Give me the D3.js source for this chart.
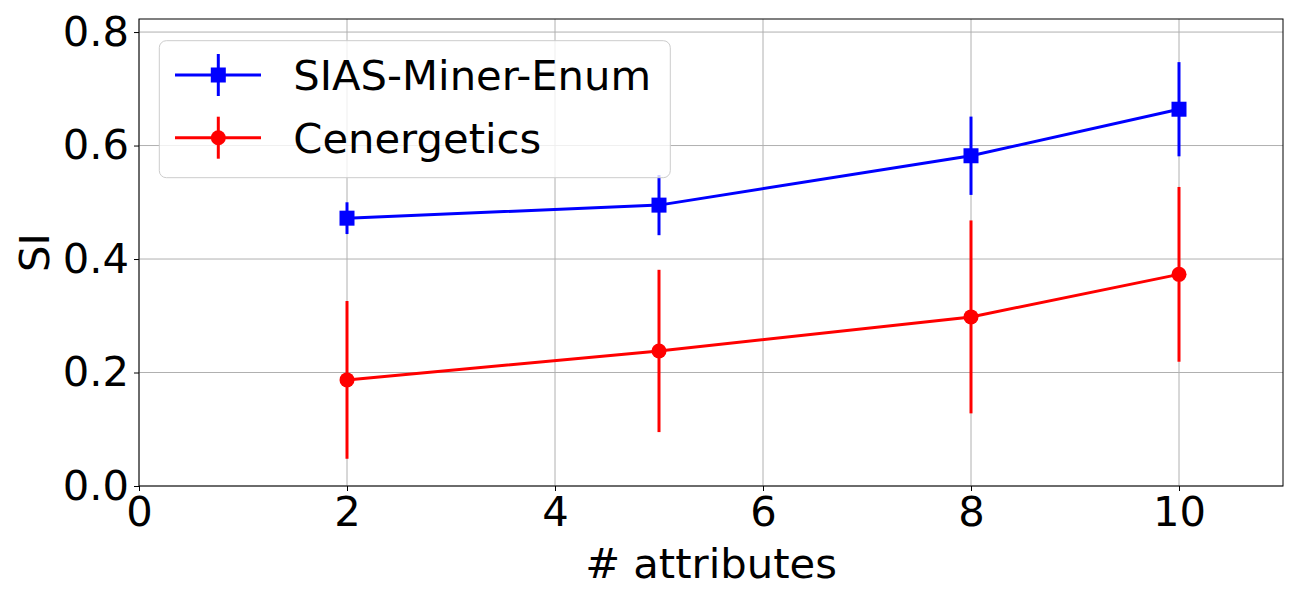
<!DOCTYPE html>
<html>
<head>
<meta charset="utf-8">
<script src="https://cdn.jsdelivr.net/npm/d3@7"></script>
<style>
  body { margin: 0; background: #fff; }
  text { font-family: "DejaVu Sans", sans-serif; fill: #000; }
</style>
</head>
<body>
<div id="chart"></div>
<script>
// Data.
let attributes = [2, 5, 8, 10];
let siasMean = [0.472, 0.495, 0.582, 0.664];
let siasErr = [0.028, 0.053, 0.069, 0.083];
let cenMean = [0.187, 0.238, 0.298, 0.373];
let cenErr = [0.139, 0.143, 0.170, 0.154];
let xTicks = [0, 2, 4, 6, 8, 10];
let yTicks = [0.0, 0.2, 0.4, 0.6, 0.8];
let seriesNames = ["SIAS-Miner-Enum", "Cenergetics"];

// Dimensions.
let margin = {top: 19, right: 17, bottom: 114, left: 139},
    width = 1300 - margin.left - margin.right,
    height = 600 - margin.top - margin.bottom;
let fontSize = 41.7;

let svg = d3.select("#chart")
            .append("svg")
            .attr("width", 1300)
            .attr("height", 600)
            .append("g")
            .attr("transform", "translate(" + margin.left + "," + margin.top + ")");

let x = d3.scaleLinear().domain([0, 11]).range([0, width]);
let y = d3.scaleLinear().domain([0, 0.823]).range([height, 0]);

// Grid.
svg.append("g")
   .selectAll("line")
   .data(xTicks)
   .enter()
   .append("line")
   .attr("x1", d => x(d)).attr("x2", d => x(d))
   .attr("y1", 0).attr("y2", height)
   .attr("stroke", "#b0b0b0").attr("stroke-width", 1);

svg.append("g")
   .selectAll("line")
   .data(yTicks)
   .enter()
   .append("line")
   .attr("x1", 0).attr("x2", width)
   .attr("y1", d => y(d)).attr("y2", d => y(d))
   .attr("stroke", "#b0b0b0").attr("stroke-width", 1);

// Axes.
let xAxis = svg.append("g")
   .attr("transform", "translate(0," + height + ")")
   .call(d3.axisBottom(x).tickValues(xTicks).tickFormat(d3.format("d")).tickSize(5).tickPadding(5));
let yAxis = svg.append("g")
   .call(d3.axisLeft(y).tickValues(yTicks).tickFormat(d3.format(".1f")).tickSize(5).tickPadding(5));
[xAxis, yAxis].forEach(function(a) {
    a.select(".domain").remove();
    a.selectAll("line").attr("stroke", "#000").attr("stroke-width", 1);
    a.selectAll("text").style("font-size", fontSize + "px").style("font-family", "DejaVu Sans");
});

// Frame.
svg.append("rect")
   .attr("x", 0).attr("y", 0)
   .attr("width", width).attr("height", height)
   .attr("fill", "none").attr("stroke", "#000").attr("stroke-width", 1);

// Axis labels.
svg.append("text")
   .attr("text-anchor", "middle")
   .attr("x", width / 2)
   .attr("y", height + 92)
   .style("font-size", fontSize + "px")
   .text("# attributes");

svg.append("text")
   .attr("text-anchor", "middle")
   .attr("transform", "translate(" + (-90) + "," + (height / 2) + ") rotate(-90)")
   .style("font-size", fontSize + "px")
   .text("SI");

// Series.
let series = [
    {name: seriesNames[0], mean: siasMean, err: siasErr, color: "#0000ff", shape: "square"},
    {name: seriesNames[1], mean: cenMean, err: cenErr, color: "#ff0000", shape: "circle"}
];

function drawMarker(g, shape, cx, cy, color) {
    if (shape === "square") {
        g.append("rect")
         .attr("x", cx - 7.5).attr("y", cy - 7.5)
         .attr("width", 15).attr("height", 15)
         .attr("fill", color);
    } else {
        g.append("circle")
         .attr("cx", cx).attr("cy", cy).attr("r", 7.5)
         .attr("fill", color);
    }
}

series.forEach(function(s) {
    let pts = attributes.map((a, i) => ({x: a, v: s.mean[i], e: s.err[i]}));
    let g = svg.append("g");

    g.append("path")
     .datum(pts)
     .attr("fill", "none")
     .attr("stroke", s.color)
     .attr("stroke-width", 3)
     .attr("d", d3.line().x(d => x(d.x)).y(d => y(d.v)));

    g.selectAll(".err")
     .data(pts)
     .enter()
     .append("line")
     .attr("x1", d => x(d.x)).attr("x2", d => x(d.x))
     .attr("y1", d => y(d.v - d.e)).attr("y2", d => y(d.v + d.e))
     .attr("stroke", s.color)
     .attr("stroke-width", 3);

    pts.forEach(d => drawMarker(g, s.shape, x(d.x), y(d.v), s.color));
});

// Legend.
let legend = svg.append("g").attr("transform", "translate(20.3,21.7)");
legend.append("rect")
   .attr("x", 0).attr("y", 0)
   .attr("width", 511).attr("height", 137)
   .attr("rx", 7)
   .attr("fill", "#fff").attr("fill-opacity", 0.8)
   .attr("stroke", "#cccccc").attr("stroke-width", 1);

series.forEach(function(s, i) {
    let cy = 34.3 + i * 62.7;
    let lg = legend.append("g");
    lg.append("line")
      .attr("x1", 15.7).attr("x2", 101.7)
      .attr("y1", cy).attr("y2", cy)
      .attr("stroke", s.color).attr("stroke-width", 3);
    lg.append("line")
      .attr("x1", 59).attr("x2", 59)
      .attr("y1", cy - 21).attr("y2", cy + 21)
      .attr("stroke", s.color).attr("stroke-width", 3);
    drawMarker(lg, s.shape, 59, cy, s.color);
    lg.append("text")
      .attr("x", 134)
      .attr("y", cy)
      .attr("dy", "0.36em")
      .style("font-size", fontSize + "px")
      .text(s.name);
});
</script>
</body>
</html>
